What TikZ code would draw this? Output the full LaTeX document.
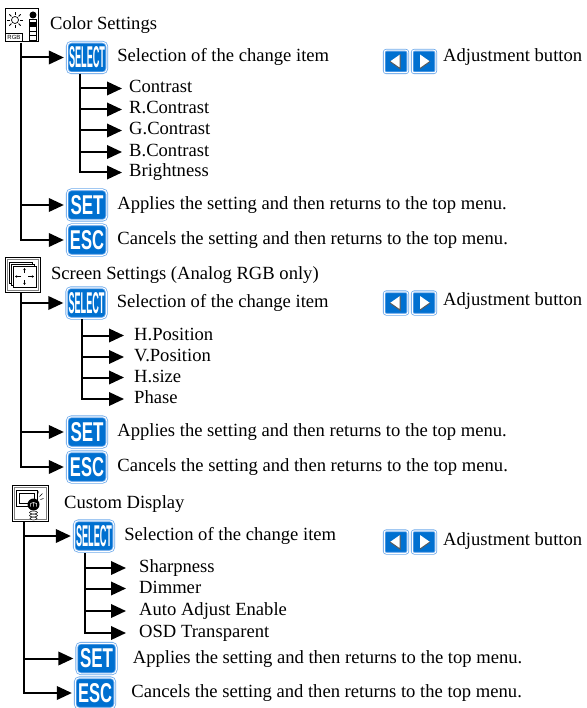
\documentclass[tikz,border=0pt]{standalone}
\usepackage{fontspec}
\setmainfont{Liberation Serif}
\newfontfamily\btnfont{Liberation Sans}
\usepackage{tikz}
\usetikzlibrary{arrows.meta, positioning}
\usepackage{xcolor}
\definecolor{btnblue}{RGB}{0,112,208}
\definecolor{btnedge}{RGB}{110,170,235}
\newcommand{\btnlabel}[3]{\resizebox{#1}{#2}{\btnfont\bfseries #3}}

\begin{document}
\begin{tikzpicture}[x=1pt,y=-1pt,font=\fontsize{18.6}{21}\selectfont]
    \tikzstyle{item}=[anchor=west,inner sep=0pt,text height=13pt,text depth=4pt]
    \tikzstyle{btn}=[shape=rectangle,rounded corners=4pt,fill=btnblue,draw=btnedge,double=white,double distance=1pt,line width=0.8pt,minimum width=39.5pt,minimum height=30.5pt,inner sep=0pt,text=white]
    \tikzstyle{adj}=[btn,rounded corners=2pt,minimum width=23.5pt,minimum height=22.5pt]
    \tikzstyle{icon}=[shape=rectangle,draw,line width=0.8pt,fill=white,minimum size=33pt,inner sep=0pt]
    \tikzstyle{arr}=[draw,line width=2pt,-{Triangle[length=15pt,width=13.5pt]},shorten >=3pt,to path={|- (\tikztotarget)}]
    \useasboundingbox (0,0) rectangle (586,708);

    % Color Settings
    \node[icon] (A0) at (22,25) {};
    \node[item, right=11pt of A0] (A0t) {Color Settings};
    \node[btn] (A1) at (87,57.5) {\btnlabel{36pt}{21pt}{SELECT}};
    \node[btn] (A2) at (87,205) {\btnlabel{33pt}{19pt}{SET}};
    \node[btn] (A3) at (87,240) {\btnlabel{34pt}{19pt}{ESC}};
    \node[item, right=10pt of A1] (A1t) {Selection of the change item};
    \node[item, right=10pt of A2] (A2t) {Applies the setting and then returns to the top menu.};
    \node[item, right=10pt of A3] (A3t) {Cancels the setting and then returns to the top menu.};
    \node[item] (A11) at (129,88.5) {Contrast};
    \node[item] (A12) at (129,109.5) {R.Contrast};
    \node[item] (A13) at (129,130.5) {G.Contrast};
    \node[item] (A14) at (129,152) {B.Contrast};
    \node[item] (A15) at (129,172.5) {Brightness};
    \node[adj] (A4) at (396,61.5) {};
    \node[adj] (A5) at (424,61.5) {};
    \node[item] (A5t) at (443,57) {Adjustment button};
    \coordinate (Ap) at (21,43);
    \coordinate (As) at (80,74);

    \path
    (Ap) edge[arr] (A1.west)
    (Ap) edge[arr] (A2.west)
    (Ap) edge[arr] (A3.west)
    (As) edge[arr,shorten >=7pt] (A11.west)
    (As) edge[arr,shorten >=7pt] (A12.west)
    (As) edge[arr,shorten >=7pt] (A13.west)
    (As) edge[arr,shorten >=7pt] (A14.west)
    (As) edge[arr,shorten >=7pt] (A15.west)
    ;

    % Screen Settings
    \node[icon,minimum size=35pt] (B0) at (23,275) {};
    \node[item, right=10pt of B0] (B0t) {Screen Settings (Analog RGB only)};
    \node[btn] (B1) at (86.5,303) {\btnlabel{36pt}{21pt}{SELECT}};
    \node[btn] (B2) at (87,432) {\btnlabel{33pt}{19pt}{SET}};
    \node[btn] (B3) at (87,467) {\btnlabel{34pt}{19pt}{ESC}};
    \node[item, right=10pt of B1] (B1t) {Selection of the change item};
    \node[item, right=10pt of B2] (B2t) {Applies the setting and then returns to the top menu.};
    \node[item, right=10pt of B3] (B3t) {Cancels the setting and then returns to the top menu.};
    \node[item] (B11) at (134,335.5) {H.Position};
    \node[item] (B12) at (134,357) {V.Position};
    \node[item] (B13) at (134,377.5) {H.size};
    \node[item] (B14) at (134,399) {Phase};
    \node[adj] (B4) at (396,303) {};
    \node[adj] (B5) at (424,303) {};
    \node[item] (B5t) at (443,301) {Adjustment button};
    \coordinate (Bp) at (21,293);
    \coordinate (Bs) at (82,319);

    \path
    (Bp) edge[arr] (B1.west)
    (Bp) edge[arr] (B2.west)
    (Bp) edge[arr] (B3.west)
    (Bs) edge[arr,shorten >=10pt] (B11.west)
    (Bs) edge[arr,shorten >=10pt] (B12.west)
    (Bs) edge[arr,shorten >=10pt] (B13.west)
    (Bs) edge[arr,shorten >=10pt] (B14.west)
    ;

    % Custom Display
    \node[icon,minimum size=36pt] (C0) at (30.5,503.5) {};
    \node[item, right=15pt of C0] (C0t) {Custom Display};
    \node[btn] (C1) at (94,536) {\btnlabel{36pt}{21pt}{SELECT}};
    \node[btn] (C2) at (96.5,658.5) {\btnlabel{33pt}{19pt}{SET}};
    \node[btn] (C3) at (95,693) {\btnlabel{34pt}{19pt}{ESC}};
    \node[item, right=10pt of C1] (C1t) {Selection of the change item};
    \node[item, right=16pt of C2] (C2t) {Applies the setting and then returns to the top menu.};
    \node[item, right=16pt of C3] (C3t) {Cancels the setting and then returns to the top menu.};
    \node[item] (C11) at (139,568) {Sharpness};
    \node[item] (C12) at (139,588.5) {Dimmer};
    \node[item] (C13) at (139,611) {Auto Adjust Enable};
    \node[item] (C14) at (139,633) {OSD Transparent};
    \node[adj] (C4) at (396,542) {};
    \node[adj] (C5) at (424,542) {};
    \node[item] (C5t) at (443,541) {Adjustment button};
    \coordinate (Cp) at (24,522);
    \coordinate (Cs) at (85,553);

    \path
    (Cp) edge[arr] (C1.west)
    (Cp) edge[arr] (C2.west)
    (Cp) edge[arr] (C3.west)
    (Cs) edge[arr,shorten >=13pt] (C11.west)
    (Cs) edge[arr,shorten >=13pt] (C12.west)
    (Cs) edge[arr,shorten >=13pt] (C13.west)
    (Cs) edge[arr,shorten >=13pt] (C14.west)
    ;

    % arrow marks on the adjustment buttons
    \foreach \b in {A4,B4,C4} {
      \fill[white,shift={(\b.center)}] (-6,0) -- (4,-7) -- (4,7) -- cycle;
      \draw[gray!70!black,line width=1pt,shift={(\b.center)}] (4,-7) -- (4,7) -- (-6,0);
    }
    \foreach \b in {A5,B5,C5} {
      \fill[white,shift={(\b.center)}] (6,0) -- (-4,-7) -- (-4,7) -- cycle;
      \draw[gray!70!black,line width=1pt,shift={(\b.center)}] (-4,7) -- (6,0);
    }

    % icon 1: sun, paint bottle, RGB
    \begin{scope}[shift={(A0.center)}]
      \draw[fill=white,line width=0.7pt] (-7,-5) circle (3.5);
      \foreach \a in {0,45,...,315}
        \draw[line width=0.8pt,shift={(-7,-5)}] (\a:5) -- (\a:8);
      \fill (11,-10) circle (3.5);
      \draw[fill=white,line width=0.7pt] (7,-6) rectangle (14,15);
      \fill (7,-3) rectangle (14,2);
      \draw[line width=0.5pt] (7,6) -- (14,6) (7,10) -- (14,10);
      \draw[line width=0.6pt] (-16,8) -- (0,8) -- (0,16);
      \node[inner sep=0pt,font=\btnfont\fontsize{6}{6}\selectfont] (A0r) at (-8,12) {RGB};
    \end{scope}

    % icon 2: stacked windows with arrows
    \begin{scope}[shift={(B0.center)}]
      \draw[gray,line width=0.6pt] (-15.5,-15.5) rectangle (15.5,15.5);
      \draw[fill=white,line width=0.5pt] (-14,-13) rectangle (9,8);
      \draw[fill=white,line width=0.5pt] (-12,-11) rectangle (11,10);
      \draw[fill=white,line width=0.5pt] (-10,-9) rectangle (13,12);
      \draw[line width=0.5pt,-{Stealth[length=2pt,width=2.5pt]}]
        (1.5,-2) -- (1.5,-7);
      \draw[line width=0.5pt,-{Stealth[length=2pt,width=2.5pt]}]
        (1.5,5) -- (1.5,10);
      \draw[line width=0.5pt,-{Stealth[length=2pt,width=2.5pt]}]
        (-2,1.5) -- (-8,1.5);
      \draw[line width=0.5pt,-{Stealth[length=2pt,width=2.5pt]}]
        (5,1.5) -- (11,1.5);
    \end{scope}

    % icon 3: monitor and bulb
    \begin{scope}[shift={(C0.center)}]
      \draw[gray,line width=0.6pt] (-16,-16) rectangle (16,16);
      \draw[fill=white,line width=0.8pt] (-14,-13) rectangle (7,3);
      \draw[line width=0.5pt] (-11,-10) rectangle (4,0);
      \fill (3,1) circle (6);
      \draw[white,line width=0.5pt] (0,3) -- (0,0) -- (3,-1) -- (6,0) -- (6,3) (3,-1) -- (3,3);
      \draw[fill=white,line width=0.5pt] (3,15) ellipse (3.5 and 1.5);
      \draw[fill=white,line width=0.5pt] (3,12) ellipse (4 and 1.5);
      \draw[fill=white,line width=0.5pt] (3,9) ellipse (4 and 1.5);
      \draw[line width=0.6pt] (9,-7) -- (12,-10) (10,-4) -- (13,-5) (7,-9) -- (8,-12);
    \end{scope}
\end{tikzpicture}
\end{document}
